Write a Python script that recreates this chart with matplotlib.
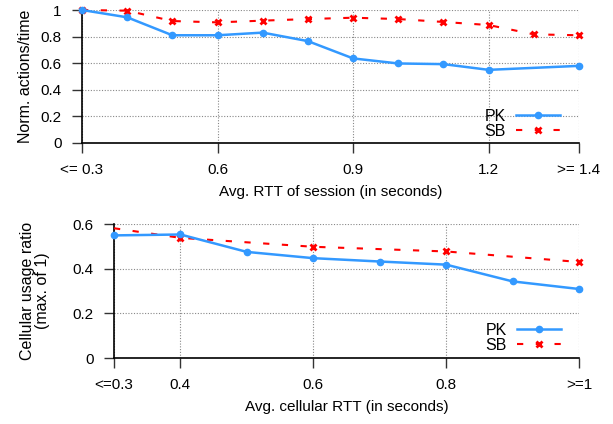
import matplotlib
matplotlib.use("Agg")
import matplotlib.pyplot as plt

plt.rcParams['font.family'] = ['Liberation Sans', 'DejaVu Sans']

# ---- data: top panel ----
top_x_pk = [0.3, 0.4, 0.5, 0.6, 0.7, 0.8, 0.9, 1.0, 1.1, 1.2, 1.4]
top_pk = [1.0, 0.945, 0.81, 0.81, 0.83, 0.766, 0.636, 0.598, 0.593, 0.55, 0.58]
top_x_sb = [0.3, 0.4, 0.5, 0.6, 0.7, 0.8, 0.9, 1.0, 1.1, 1.2, 1.3, 1.4]
top_sb = [1.0, 0.995, 0.917, 0.907, 0.92, 0.932, 0.942, 0.932, 0.91, 0.887, 0.817, 0.81]
top_xticks = [0.3, 0.6, 0.9, 1.2, 1.4]
top_xticklabels = ["<= 0.3", "0.6", "0.9", "1.2", ">= 1.4"]
top_yticks = [0, 0.2, 0.4, 0.6, 0.8, 1.0]
top_yticklabels = ["0", "0.2", "0.4", "0.6", "0.8", "1"]

# ---- data: bottom panel ----
bot_x_pk = [0.3, 0.4, 0.5, 0.6, 0.7, 0.8, 0.9, 1.0]
bot_pk = [0.549, 0.553, 0.475, 0.447, 0.432, 0.418, 0.343, 0.309]
bot_x_sb = [0.3, 0.4, 0.6, 0.8, 1.0]
bot_sb = [0.581, 0.538, 0.498, 0.477, 0.43]
bot_xticks = [0.3, 0.4, 0.6, 0.8, 1.0]
bot_xticklabels = ["<=0.3", "0.4", "0.6", "0.8", ">=1"]
bot_yticks = [0, 0.2, 0.4, 0.6]
bot_yticklabels = ["0", "0.2", "0.4", "0.6"]

W, H = 613, 424
fig = plt.figure(figsize=(W / 100, H / 100), dpi=100)

def ax_rect(l, r, t, b):
    return [l / W, 1 - b / H, (r - l) / W, (b - t) / H]

ax1 = fig.add_axes(ax_rect(82, 579, 10, 143))
ax2 = fig.add_axes(ax_rect(114, 579, 224, 358))

BLUE = "#3399ff"
RED = "#ff0000"
FS = 11

def style(ax, xticks, xlabels, yticks, ylabels, xlim, ylim):
    ax.set_xlim(*xlim)
    ax.set_ylim(*ylim)
    ax.set_xticks(xticks)
    ax.set_xticklabels(xlabels, fontsize=FS)
    ax.set_yticks(yticks)
    ax.set_yticklabels(ylabels, fontsize=FS)
    ax.grid(True, color="#888888", linestyle=(0, (1, 1.5)), linewidth=0.8)
    for s in ["top", "right"]:
        ax.spines[s].set_visible(False)
    for s in ["left", "bottom"]:
        ax.spines[s].set_linewidth(1.2)
        ax.spines[s].set_color("black")
    ax.tick_params(direction="out", length=7.5, width=1.0, color="#333333", pad=7)
    ax.set_axisbelow(True)

def plot_series(ax, xpk, ypk, xsb, ysb, anchor, sb_markevery=None):
    ax.plot(xpk, ypk, color=BLUE, lw=1.8, marker="o", markersize=4.5,
            label="PK", clip_on=False, zorder=4)
    ax.plot(xsb, ysb, color=RED, lw=1.5, dashes=(3, 6), marker="x",
            markersize=5, markeredgewidth=2, label="SB", clip_on=False, zorder=3,
            markevery=sb_markevery)
    leg = ax.legend(loc="lower right", bbox_to_anchor=anchor, frameon=False,
                    markerfirst=False, fontsize=11.5, handlelength=2.75,
                    handletextpad=0.65, labelspacing=0.0, borderpad=0.0,
                    borderaxespad=0.0)
    return leg

plot_series(ax1, top_x_pk, top_pk, top_x_sb, top_sb, (0.962, 0.03))
style(ax1, top_xticks, top_xticklabels, top_yticks, top_yticklabels, (0.3, 1.4), (0, 1))
ax1.set_xlabel("Avg. RTT of session (in seconds)", fontsize=FS, labelpad=6)
ax1.set_ylabel("Norm. actions/time", fontsize=11.5)
ax1.yaxis.set_label_coords(-49 / 497, 0.5)

plot_series(ax2, bot_x_pk, bot_pk, bot_x_sb, bot_sb, (0.962, 0.037),
            sb_markevery=[1, 2, 3, 4])
style(ax2, bot_xticks, bot_xticklabels, bot_yticks, bot_yticklabels, (0.3, 1.0), (0, 0.6))
ax2.set_xlabel("Avg. cellular RTT (in seconds)", fontsize=FS, labelpad=6)
ax2.set_ylabel("Cellular usage ratio\n(max. of 1)", fontsize=11.5,
               linespacing=1.0)
ax2.yaxis.set_label_coords(-64 / 465, 0.5)

fig.savefig("out.png", dpi=100)
